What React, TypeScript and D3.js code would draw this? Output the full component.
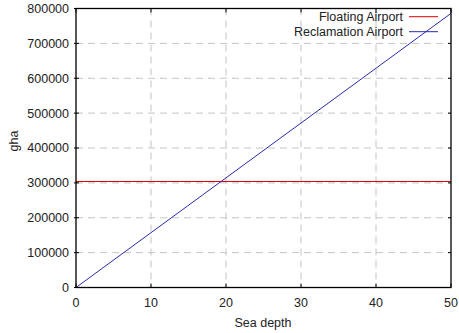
import React from "react";
import * as d3 from "d3";

const xTicks = [0, 10, 20, 30, 40, 50];
const yTicks = [0, 100000, 200000, 300000, 400000, 500000, 600000, 700000, 800000];
const seriesNames = ["Floating Airport", "Reclamation Airport"];
const depths = [0, 50];
const floatingValues = [304000, 304000];
const reclamationValues = [0, 786000];
const colors = ["#e00000", "#2a2aa8"];

export default function App() {
  const W = 459, H = 333;
  const left = 76, right = 451, top = 8.5, bottom = 287.5;
  const x = d3.scaleLinear().domain([0, 50]).range([left, right]);
  const y = d3.scaleLinear().domain([0, 800000]).range([bottom, top]);
  const line = d3.line<[number, number]>().x(d => x(d[0])).y(d => y(d[1]));
  const series = [floatingValues, reclamationValues];
  const font = "'Liberation Sans', Arial, sans-serif";
  return (
    <svg width={W} height={H} style={{ position: "absolute", left: 0, top: 0, background: "#fff" }}>
      <defs>
        <clipPath id="plot">
          <rect x={left} y={top} width={right - left} height={bottom - top} />
        </clipPath>
      </defs>
      {xTicks.slice(1, -1).map(t => (
        <line key={"gx" + t} x1={x(t)} x2={x(t)} y1={top} y2={bottom} stroke="#c4c4c4" strokeDasharray="7,5" />
      ))}
      {yTicks.slice(1, -1).map(t => (
        <line key={"gy" + t} x1={left} x2={right} y1={y(t)} y2={y(t)} stroke="#c4c4c4" strokeDasharray="7,5" />
      ))}
      {xTicks.map(t => (
        <g key={"tx" + t}>
          <line x1={x(t)} x2={x(t)} y1={bottom} y2={bottom - 4} stroke="#000" />
          <line x1={x(t)} x2={x(t)} y1={top} y2={top + 4} stroke="#000" />
          <text x={x(t)} y={307} textAnchor="middle" fontFamily={font} fontSize={12.5} fill="#222">{t}</text>
        </g>
      ))}
      {yTicks.map(t => (
        <g key={"ty" + t}>
          <line x1={left - 2} x2={left + 3} y1={y(t)} y2={y(t)} stroke="#000" />
          <line x1={right} x2={right - 3} y1={y(t)} y2={y(t)} stroke="#000" />
          <text x={69} y={y(t)} dy="0.35em" textAnchor="end" fontFamily={font} fontSize={12.5} fill="#222">{t}</text>
        </g>
      ))}
      <g clipPath="url(#plot)">
        {series.map((vals, i) => (
          <path key={"s" + i} d={line(depths.map((d, j) => [d, vals[j]]) as [number, number][]) || ""} fill="none" stroke={colors[i]} strokeWidth={1} />
        ))}
      </g>
      <rect x={left} y={top} width={right - left} height={bottom - top} fill="none" stroke="#000" strokeWidth={1.3} />
      {seriesNames.map((n, i) => (
        <g key={"lg" + i}>
          <text x={403} y={16.7 + i * 15} dy="0.35em" textAnchor="end" fontFamily={font} fontSize={12.5} fill="#222">{n}</text>
          <line x1={409} x2={438} y1={16.7 + i * 15} y2={16.7 + i * 15} stroke={colors[i]} strokeWidth={1} />
        </g>
      ))}
      <text x={263} y={327} textAnchor="middle" fontFamily={font} fontSize={12.5} fill="#222">Sea depth</text>
      <text transform="translate(18,141) rotate(-90)" textAnchor="middle" fontFamily={font} fontSize={12.5} fill="#222">gha</text>
    </svg>
  );
}
